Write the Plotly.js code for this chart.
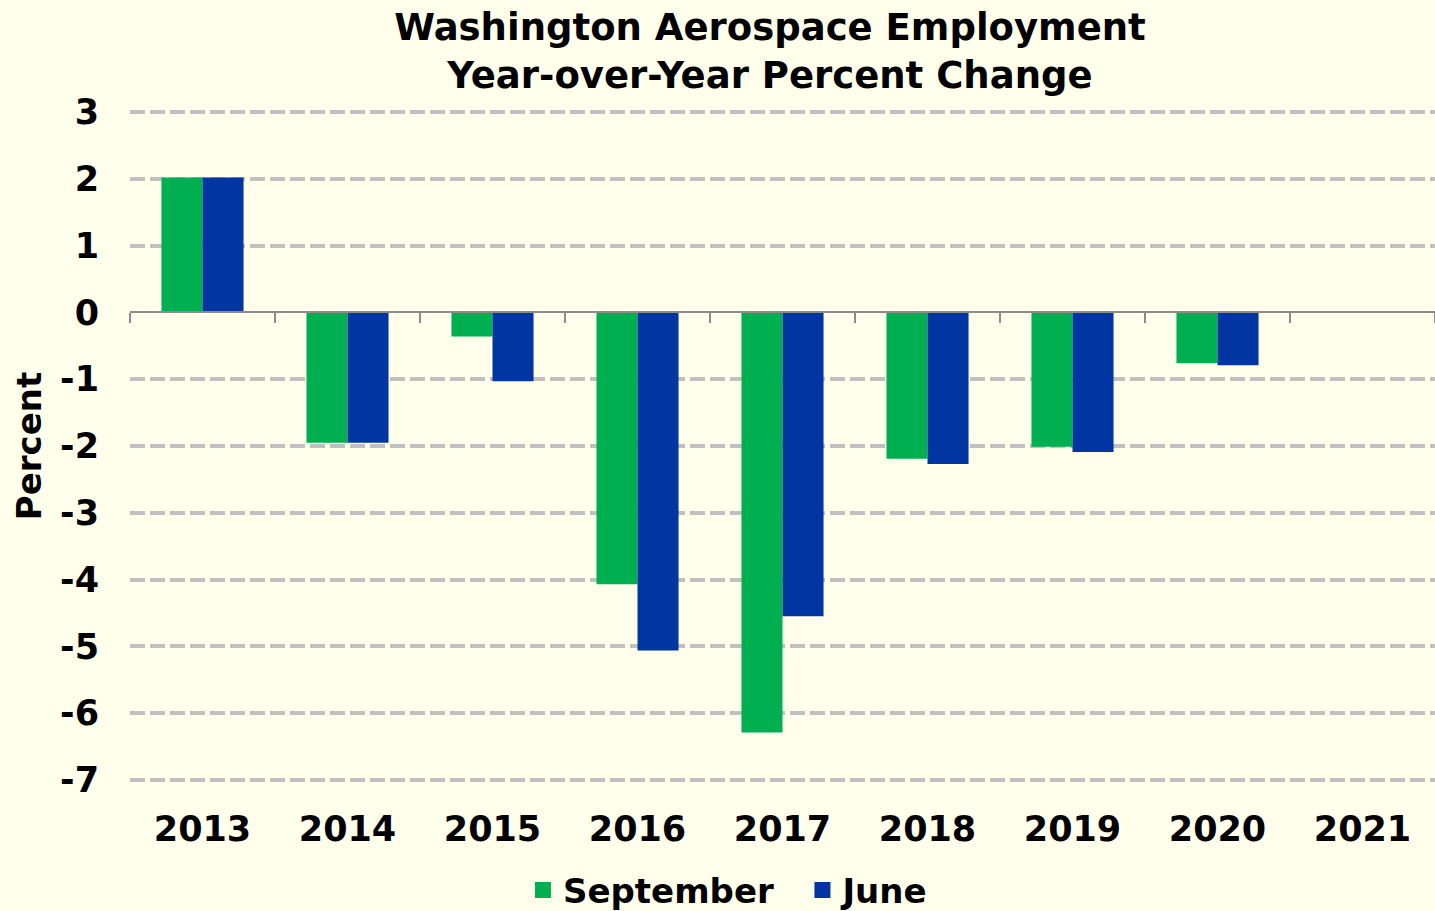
<!DOCTYPE html>
<html>
<head>
<meta charset="utf-8">
<script src="https://cdn.plot.ly/plotly-3.0.1.min.js"></script>
<style>
  html, body { margin: 0; padding: 0; background: #FFFFEC; }
  #chart { width: 1435px; height: 911px; }
</style>
</head>
<body>
<div id="chart"></div>
<script>
const years = ['2013', '2014', '2015', '2016', '2017', '2018', '2019', '2020', '2021'];
const september = [2.02, -1.95, -0.36, -4.07, -6.29, -2.19, -2.01, -0.76, null];
const june = [2.02, -1.95, -1.03, -5.06, -4.55, -2.27, -2.09, -0.79, null];
const yTicks = [3, 2, 1, 0, -1, -2, -3, -4, -5, -6, -7];
const seriesNames = ['September', 'June'];
const seriesColors = ['#00AF50', '#0035A2'];

const FONT = 'Verdana, "DejaVu Sans", sans-serif';
const BG = '#FFFFEC';

const traces = [
  {
    type: 'bar', name: seriesNames[0], x: years, y: september, showlegend: false,
    marker: { color: seriesColors[0], line: { width: 0 } }
  },
  {
    type: 'bar', name: seriesNames[1], x: years, y: june, showlegend: false,
    marker: { color: seriesColors[1], line: { width: 0 } }
  },
  {
    type: 'scatter', mode: 'markers', x: years, y: years.map(() => null),
    xaxis: 'x2', yaxis: 'y', showlegend: false, hoverinfo: 'skip',
    marker: { opacity: 0 }
  },
  // legend entries (square swatches)
  {
    type: 'scatter', mode: 'markers', name: seriesNames[0] + '\u00A0\u00A0', x: [years[0]], y: [null],
    showlegend: true, hoverinfo: 'skip',
    marker: { symbol: 'square', size: 18, color: seriesColors[0] }
  },
  {
    type: 'scatter', mode: 'markers', name: seriesNames[1], x: [years[0]], y: [null],
    showlegend: true, hoverinfo: 'skip',
    marker: { symbol: 'square', size: 18, color: seriesColors[1] }
  }
];

const layout = {
  width: 1435, height: 911,
  paper_bgcolor: BG, plot_bgcolor: BG,
  font: { family: FONT, color: '#000', weight: 700 },
  margin: { l: 130, r: 0, t: 110, b: 129, pad: 0, autoexpand: false },
  title: {
    text: 'Washington Aerospace Employment<br>Year-over-Year Percent Change',
    font: { family: FONT, size: 37, weight: 700, color: '#000' },
    x: 0.4904, xref: 'paper', xanchor: 'center',
    y: 0.956, yref: 'container', yanchor: 'top'
  },
  barmode: 'group', bargap: 0.434, bargroupgap: 0,
  xaxis: {
    type: 'category', range: [-0.5, 8.5], categoryarray: years,
    showline: false, ticks: '', showgrid: false, zeroline: false,
    tickfont: { family: FONT, size: 35, weight: 700 },
    ticklabelstandoff: 23
  },
  xaxis2: {
    type: 'category', range: [-0.5, 8.5], categoryarray: years,
    overlaying: 'x', anchor: 'free', position: 0.7, side: 'bottom',
    showline: true, linecolor: '#8C8C8C', linewidth: 2,
    ticks: 'outside', tickson: 'boundaries', ticklen: 10, tickwidth: 2, tickcolor: '#8C8C8C',
    showticklabels: false, showgrid: false, zeroline: false
  },
  yaxis: {
    range: [-7.03, 3.03], tickvals: yTicks, ticktext: yTicks.map(String),
    showgrid: true, gridcolor: '#C0C0C0', gridwidth: 4, griddash: '15px,5px',
    zeroline: true, zerolinecolor: '#8C8C8C', zerolinewidth: 2,
    showline: false, ticks: '',
    tickfont: { family: FONT, size: 35, weight: 700 },
    ticklabelstandoff: 30,
    title: { text: 'Percent', font: { family: FONT, size: 34, weight: 700 }, standoff: 8 }
  },
  legend: {
    orientation: 'h', x: 0.4586, xanchor: 'center', y: -0.118, yanchor: 'top',
    font: { family: FONT, size: 34, weight: 700 },
    bgcolor: 'rgba(0,0,0,0)', traceorder: 'normal', itemwidth: 30
  },
  showlegend: true
};

Plotly.newPlot('chart', traces, layout, { displayModeBar: false, responsive: false });
</script>
</body>
</html>
